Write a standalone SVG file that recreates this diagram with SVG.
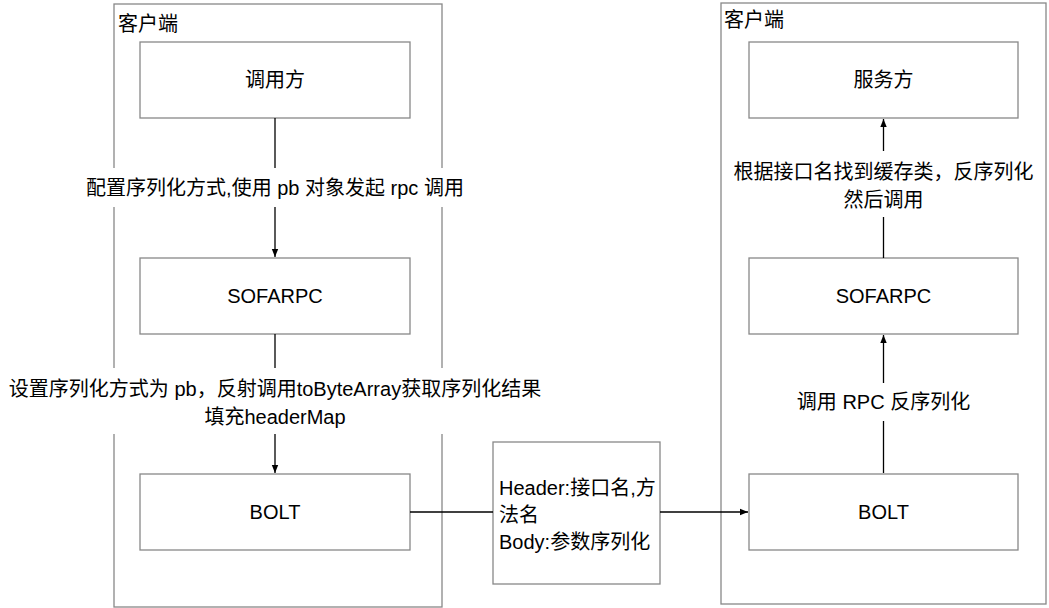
<svg xmlns="http://www.w3.org/2000/svg" width="1049" height="608" viewBox="0 0 1049 608">
<defs>
<style>
text{font-family:"Liberation Sans","Noto Sans CJK SC",sans-serif;font-size:20px;fill:#000;}
.c{text-anchor:middle;dominant-baseline:central;}
.l{dominant-baseline:central;}
.box{fill:#fff;stroke:#888;stroke-width:1.3;}
.cont{fill:#fff;stroke:#888;stroke-width:1.3;}
.edge{fill:none;stroke:#000;stroke-width:1.3;}
.bg{fill:#fff;}
</style>
<marker id="arr" viewBox="0 0 10 10" refX="10" refY="5" markerWidth="8" markerHeight="8" markerUnits="userSpaceOnUse" orient="auto">
<path d="M0,1 L10,5 L0,9 Z" fill="#000"/>
</marker>
</defs>
<rect width="1049" height="608" fill="#fff"/>
<g id="client-left">
<rect class="cont" x="114" y="4" width="328" height="603"/>
<text class="l" x="118" y="24">客户端</text>
</g>
<g id="client-right">
<rect class="cont" x="721" y="3" width="325" height="601"/>
<text class="l" x="724" y="20">客户端</text>
</g>
<g id="caller">
<rect class="box" x="140" y="42" width="270" height="76"/>
<text class="c" x="275" y="80">调用方</text>
</g>
<g id="sofarpc-left">
<rect class="box" x="140" y="258" width="270" height="76"/>
<text class="c" x="275" y="296">SOFARPC</text>
</g>
<g id="bolt-left">
<rect class="box" x="140" y="474" width="270" height="76"/>
<text class="c" x="275" y="512">BOLT</text>
</g>
<g id="message">
<rect class="box" x="493" y="442" width="167" height="142"/>
<text class="l" x="499" y="488">Header:接口名,方</text>
<text class="l" x="499" y="515">法名</text>
<text class="l" x="499" y="542">Body:参数序列化</text>
</g>
<g id="provider">
<rect class="box" x="749" y="42" width="269" height="76"/>
<text class="c" x="883.5" y="80">服务方</text>
</g>
<g id="sofarpc-right">
<rect class="box" x="749" y="258" width="269" height="76"/>
<text class="c" x="883.5" y="296">SOFARPC</text>
</g>
<g id="bolt-right">
<rect class="box" x="749" y="474" width="269" height="76"/>
<text class="c" x="883.5" y="512">BOLT</text>
</g>
<g id="connectors">
<path class="edge" d="M275,118 V257" marker-end="url(#arr)"/>
<path class="edge" d="M275,334 V473" marker-end="url(#arr)"/>
<path class="edge" d="M410,512 H493"/>
<path class="edge" d="M660,512 H748" marker-end="url(#arr)"/>
<path class="edge" d="M883.5,473 V335" marker-end="url(#arr)"/>
<path class="edge" d="M883.5,258 V119" marker-end="url(#arr)"/>
</g>
<g id="labels">
<rect class="bg" x="82" y="168" width="386" height="39"/>
<text class="c" x="275" y="188">配置序列化方式,使用 pb 对象发起 rpc 调用</text>
<rect class="bg" x="4" y="368" width="544" height="66"/>
<text class="c" x="275" y="389">设置序列化方式为 pb，反射调用toByteArray获取序列化结果</text>
<text class="c" x="275" y="417">填充headerMap</text>
<rect class="bg" x="730" y="151" width="305" height="66"/>
<text class="c" x="883.5" y="172">根据接口名找到缓存类，反序列化</text>
<text class="c" x="883.5" y="200">然后调用</text>
<rect class="bg" x="792" y="383" width="184" height="38"/>
<text class="c" x="883.5" y="402">调用 RPC 反序列化</text>
</g>
</svg>
